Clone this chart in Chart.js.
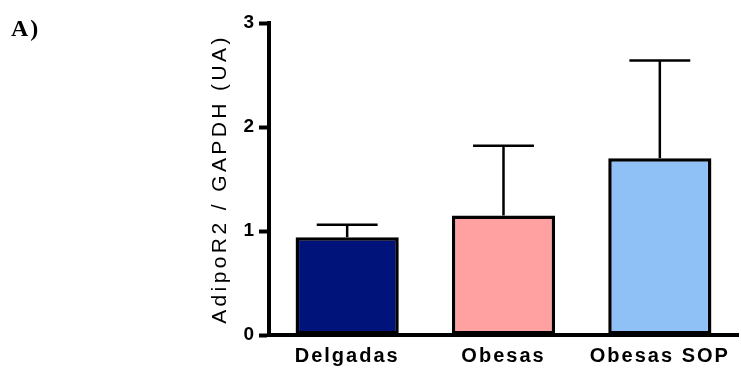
<!DOCTYPE html>
<html>
<head>
<meta charset="utf-8">
<script src="https://cdn.jsdelivr.net/npm/chart.js@4"></script>
<style>
  body { margin: 0; background: #fff; }
  #wrap { position: relative; width: 741px; height: 369px; }
  #panel {
    position: absolute; left: 11px; top: 16px;
    font: bold 24px "Liberation Serif", "Times New Roman", serif;
    line-height: 24px; letter-spacing: 2px; color: #000;
  }
</style>
</head>
<body>
<div id="wrap">
  <canvas id="myChart"></canvas>
  <div id="panel">A)</div>
</div>
<script>
const groups = ["Delgadas", "Obesas", "Obesas SOP"];
const means = [0.94, 1.15, 1.70];
const errors = [0.12, 0.67, 0.94];   // upper error (SEM)
const yTicks = [0, 1, 2, 3];
const barColors = ["#00137b", "#ffa1a1", "#8fc1f7"];

// letter spacing for some texts (the original font is wide)
function spaced(scale, name, sp) {
  if (scale["_sp_" + name]) return;
  const orig = scale[name];
  scale[name] = function (...args) {
    const c = this.ctx;
    const old = c.letterSpacing;
    c.letterSpacing = sp;
    orig.apply(this, args);
    c.letterSpacing = old;
  };
  scale["_sp_" + name] = true;
}

const spacingPlugin = {
  id: "spacing",
  afterLayout(chart) {
    spaced(chart.scales.x, "drawLabels", "2px");
    spaced(chart.scales.y, "drawTitle", "3.4px");
  }
};

// error bars, only upper side
const errorBars = {
  id: "errorBars",
  afterDatasetsDraw(chart) {
    const ctx = chart.ctx;
    const y = chart.scales.y;
    const meta = chart.getDatasetMeta(0);
    ctx.save();
    ctx.strokeStyle = "#000";
    ctx.lineWidth = 2.5;
    meta.data.forEach((bar, i) => {
      const top = y.getPixelForValue(means[i] + errors[i]);
      const half = bar.width * 0.295;
      ctx.beginPath();
      ctx.moveTo(bar.x, bar.y);
      ctx.lineTo(bar.x, top);
      ctx.moveTo(bar.x - half, top);
      ctx.lineTo(bar.x + half, top);
      ctx.stroke();
    });
    ctx.restore();
  }
};

const ctx = document.getElementById("myChart").getContext("2d");
const myChart = new Chart(ctx, {
  type: "bar",
  data: {
    labels: groups,
    datasets: [
      {
        data: means,
        backgroundColor: barColors,
        borderColor: "#000",
        borderWidth: 3.5,
        borderSkipped: false,
        barPercentage: 0.66,
        categoryPercentage: 1,
      },
    ],
  },
  options: {
    responsive: true,
    maintainAspectRatio: false,
    animation: false,
    layout: { padding: { left: 208, right: 3, top: 23, bottom: 0 } },
    plugins: { legend: { display: false }, tooltip: { enabled: false } },
    scales: {
      x: {
        grid: { display: false, drawTicks: false },
        border: { display: true, color: "#000", width: 4 },
        ticks: {
          color: "#000",
          padding: 9,
          autoSkip: false,
          maxRotation: 0,
          font: { family: "'Liberation Sans', Arial, sans-serif", size: 20, weight: "bold" },
        },
        afterFit(scale) { scale.height = 34; },
      },
      y: {
        min: 0,
        max: 3,
        afterBuildTicks(scale) { scale.ticks = yTicks.map(v => ({ value: v })); },
        grid: {
          display: true,
          drawOnChartArea: false,
          drawTicks: true,
          tickLength: 10,
          tickWidth: 4,
          tickColor: "#000",
        },
        border: { display: true, color: "#000", width: 4 },
        ticks: {
          color: "#000",
          padding: 5,
          font: { family: "'Liberation Sans', Arial, sans-serif", size: 19, weight: "bold" },
        },
        title: {
          display: true,
          text: "AdipoR2 / GAPDH (UA)",
          color: "#000",
          padding: 0,
          font: { family: "'Liberation Sans', Arial, sans-serif", size: 21, weight: "normal" },
        },
        afterFit(scale) { scale.width = 61; },
      },
    },
  },
  plugins: [spacingPlugin, errorBars],
});
</script>
</body>
</html>
